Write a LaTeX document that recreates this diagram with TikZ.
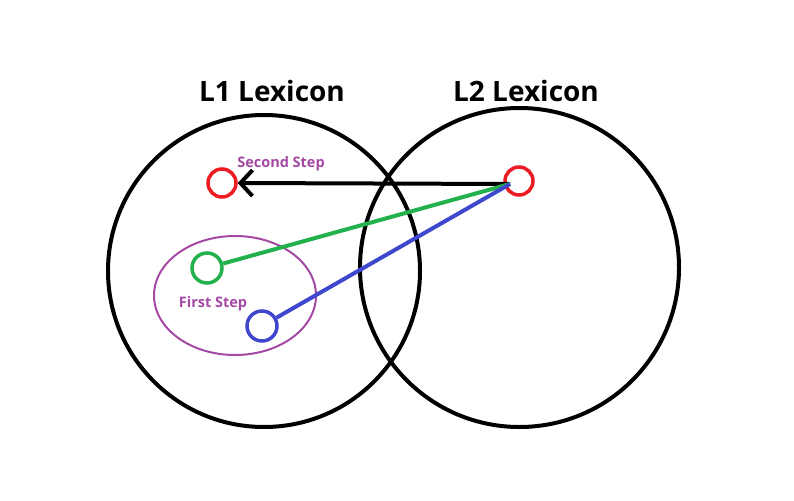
\documentclass[tikz,border=0pt]{standalone}
\usepackage{fontspec}
\setmainfont{Open Sans}
\usetikzlibrary{positioning,arrows.meta,shapes.geometric}
\definecolor{wordred}{HTML}{ED1C24}
\definecolor{wordgreen}{HTML}{22B14C}
\definecolor{wordblue}{HTML}{3F48CC}
\definecolor{steppurple}{HTML}{A349A4}
\tikzset{
  lexicon/.style={circle, draw=black, line width=4pt, inner sep=0pt},
  word/.style={circle, line width=3.5pt, inner sep=0pt, minimum size=28pt},
  title/.style={font=\fontsize{28}{32}\selectfont\bfseries},
  steplabel/.style={font=\fontsize{14.5}{16}\selectfont\bfseries, text=steppurple},
  link/.style={line width=4pt},
}

\begin{document}
\begin{tikzpicture}[x=1pt, y=-1pt]
\useasboundingbox (0,0) rectangle (794,500);
\node[lexicon, minimum size=312pt] (l1) at (264,271) {};
\node[lexicon, minimum size=319pt] (l2) at (519.5,267.5) {};
\node[title] (l1title) at (272,91) {L1 Lexicon};
\node[title] (l2title) at (526,91) {L2 Lexicon};

\node[ellipse, draw=steppurple, line width=2pt, minimum width=162pt, minimum height=119pt,
      inner sep=0pt] (stepone) at (235,295.5) {};
\node[word, draw=wordred] (l1word) at (222,183) {};
\node[word, draw=wordred] (l2word) at (519,181) {};
\node[word, draw=wordgreen, minimum size=30pt] (greenword) at (207,268) {};
\node[word, draw=wordblue, minimum size=30pt] (blueword) at (262,326) {};
\coordinate (hub) at (510,184);

\node[steplabel] (second) at (281,164) {Second Step};
\node[steplabel] (first) at (213,304) {First Step};

\draw[link, -{Straight Barb[length=12pt,width=26pt,line width=4pt]}] (hub) -- (l1word.east);
\draw[link, wordgreen] (greenword) -- (hub);
\draw[link, wordblue] (blueword) -- (hub);
\end{tikzpicture}
\end{document}
